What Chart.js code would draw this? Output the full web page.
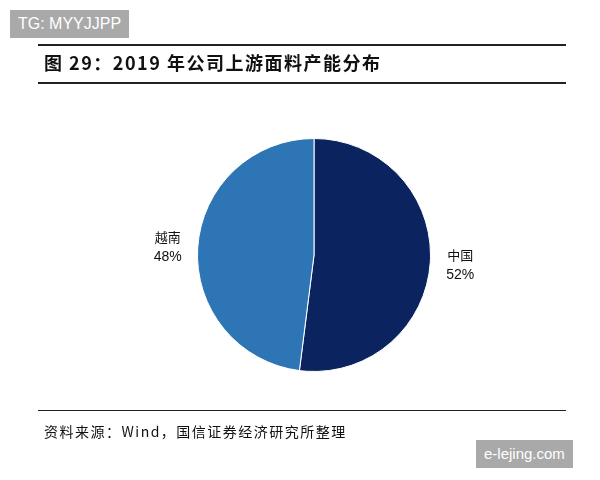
<!DOCTYPE html>
<html><head><meta charset="utf-8">
<script src="https://cdn.jsdelivr.net/npm/chart.js@4"></script>
<style>
body{margin:0;width:600px;height:480px;background:#fff;position:relative;overflow:hidden;font-family:"Noto Sans CJK SC","Liberation Sans",sans-serif}
#c{position:absolute;left:0;top:0}
.wm{position:absolute;background:#a9a9a9;color:#fff;font-family:"Liberation Sans",Arial,sans-serif;font-size:16px;padding:0 8px;line-height:28px}
.rule{position:absolute;left:38px;width:528px;height:1.5px;background:#222}
</style></head><body>
<canvas id="c" width="600" height="480"></canvas>
<div class="wm" style="left:10px;top:10px">TG: MYYJJPP</div>
<div class="rule" style="top:44px"></div>
<div style="position:absolute;left:44px;top:49px;font-size:18px;letter-spacing:1.5px;font-weight:bold;color:#111">图 29：2019 年公司上游面料产能分布</div>
<div class="rule" style="top:82px"></div>
<div class="rule" style="top:410px;height:1px"></div>
<div style="position:absolute;left:44px;top:421px;font-size:14px;letter-spacing:1.5px;color:#111">资料来源：Wind，国信证券经济研究所整理</div>
<div class="wm" style="left:476px;top:440px;font-size:15px">e-lejing.com</div>
<script>
// 2019 上游面料产能分布
const labels = ['中国', '越南'];
const shares = [52, 48];
const colors = ['#0b2460', '#2e75b6'];

const outerLabels = {
  id: 'outerLabels',
  afterDatasetsDraw(ch) {
    const { ctx } = ch;
    ch.getDatasetMeta(0).data.forEach((arc, i) => {
      const mid = (arc.startAngle + arc.endAngle) / 2;
      const r = arc.outerRadius + 30;
      const x = arc.x + Math.cos(mid) * r, y = arc.y + Math.sin(mid) * r;
      ctx.save();
      ctx.fillStyle = '#111';
      ctx.textAlign = 'center';
      ctx.font = '13px "Noto Sans CJK SC"';
      ctx.fillText(labels[i], x, y - 4);
      ctx.font = '14px "Liberation Sans"';
      ctx.fillText(shares[i] + '%', x, y + 15);
      ctx.restore();
    });
  },
};

new Chart(document.getElementById('c'), {
  type: 'pie',
  data: { labels, datasets: [{ data: shares, backgroundColor: colors, borderColor: '#fff', borderWidth: 1 }] },
  options: {
    responsive: false, animation: false,
    layout: { padding: { left: 197, right: 169, top: 138, bottom: 108 } },
    plugins: { legend: { display: false }, tooltip: { enabled: false } },
  },
  plugins: [outerLabels],
});
</script>
</body></html>
